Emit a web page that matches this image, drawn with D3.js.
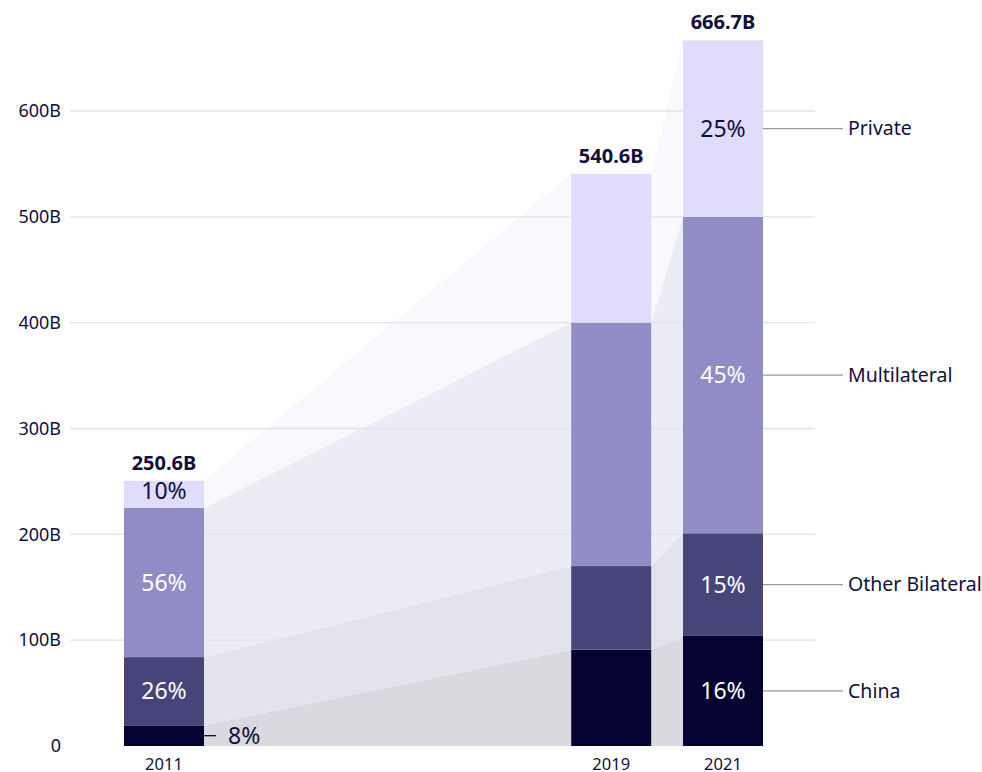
<!DOCTYPE html>
<html><head><meta charset="utf-8">
<script src="https://cdn.jsdelivr.net/npm/d3@7"></script>
<style>body{margin:0;background:#fff;} svg{display:block;font-family:"Noto Sans",sans-serif;}</style>
</head><body>
<svg id="c" width="982" height="772"></svg>
<script>
const years = [2011, 2019, 2021];
const seriesNames = ["China", "Other Bilateral", "Multilateral", "Private"];
const china = [19.5, 91, 104];
const otherBilateral = [64.5, 79, 97];
const multilateral = [141, 230, 299];
const privateDebt = [25.6, 140.6, 166.7];
const totals = ["250.6B", "540.6B", "666.7B"];
const pct2011 = ["8%", "26%", "56%", "10%"];
const pct2021 = ["16%", "15%", "45%", "25%"];
const yTicks = [0, 100, 200, 300, 400, 500, 600];

const barColors = ["#030230", "#46457a", "#8f8cc6", "#e0dcfc"];
const bandColors = ["#d9d9df", "#e3e3eb", "#ececf5", "#f8f8fd"];
const textColor = "#10103a";

const svg = d3.select("#c");
const y = d3.scaleLinear().domain([0, 600]).range([746, 111]);
const x = d3.scaleLinear().domain([2011, 2021]).range([164, 723]);
const barW = 80;

const rows = years.map((yr, i) => ({year: yr, China: china[i], "Other Bilateral": otherBilateral[i], Multilateral: multilateral[i], Private: privateDebt[i]}));
const stack = d3.stack().keys(seriesNames)(rows);

// bands between bars
const bandG = svg.append("g");
for (let i = 0; i < years.length - 1; i++) {
  stack.forEach((layer, k) => {
    const pts = [
      {x: x(years[i]) + barW / 2, y0: layer[i][0], y1: layer[i][1]},
      {x: x(years[i + 1]) - barW / 2, y0: layer[i + 1][0], y1: layer[i + 1][1]}
    ];
    const area = d3.area().x(d => d.x).y0(d => y(d.y0)).y1(d => y(d.y1));
    bandG.append("path").attr("d", area(pts)).attr("fill", bandColors[k]);
  });
}

// gridlines
svg.append("g").selectAll("line").data(yTicks.filter(t => t > 0)).join("line")
  .attr("x1", 70).attr("x2", 815).attr("y1", d => y(d)).attr("y2", d => y(d))
  .attr("stroke", "#e2e2e8").attr("stroke-width", 1.3);

// y tick labels
svg.append("g").selectAll("text").data(yTicks).join("text")
  .attr("x", 61).attr("y", d => y(d)).attr("dy", "0.35em").attr("text-anchor", "end")
  .attr("font-size", 18).attr("fill", textColor)
  .text(d => d === 0 ? "0" : d + "B");

// bars
stack.forEach((layer, k) => {
  svg.append("g").selectAll("rect").data(layer).join("rect")
    .attr("x", (d, i) => x(years[i]) - barW / 2).attr("width", barW)
    .attr("y", d => y(d[1])).attr("height", d => y(d[0]) - y(d[1]))
    .attr("fill", barColors[k]);
});

// totals
svg.append("g").selectAll("text").data(years).join("text")
  .attr("x", d => x(d)).attr("y", (d, i) => y(stack[3][i][1]) - 11)
  .attr("text-anchor", "middle").attr("font-size", 20).attr("font-weight", "bold")
  .attr("fill", textColor).text((d, i) => totals[i]);

// year labels
svg.append("g").selectAll("text").data(years).join("text")
  .attr("x", d => x(d)).attr("y", 764).attr("dy", "0.35em")
  .attr("text-anchor", "middle").attr("font-size", 16.5).attr("fill", textColor).text(d => d);

// 2011 percentages
stack.forEach((layer, k) => {
  const d = layer[0];
  const cy = (y(d[0]) + y(d[1])) / 2;
  if (k === 0) {
    svg.append("line").attr("x1", x(2011) + barW / 2).attr("x2", x(2011) + barW / 2 + 12)
      .attr("y1", cy).attr("y2", cy).attr("stroke", textColor).attr("stroke-width", 1.3);
    svg.append("text").attr("x", x(2011) + barW / 2 + 24).attr("y", cy).attr("dy", "0.35em")
      .attr("font-size", 23).attr("fill", textColor).text(pct2011[k]);
  } else {
    svg.append("text").attr("x", x(2011)).attr("y", k === 3 ? cy - 3 : cy).attr("dy", "0.35em")
      .attr("text-anchor", "middle").attr("font-size", 23)
      .attr("fill", k === 3 ? textColor : "#ffffff").text(pct2011[k]);
  }
});

// 2021 percentages and legend labels
stack.forEach((layer, k) => {
  const d = layer[2];
  const cy = (y(d[0]) + y(d[1])) / 2;
  svg.append("text").attr("x", x(2021)).attr("y", cy).attr("dy", "0.35em")
    .attr("text-anchor", "middle").attr("font-size", 23)
    .attr("fill", k === 3 ? textColor : "#ffffff").text(pct2021[k]);
  svg.append("line").attr("x1", x(2021) + barW / 2).attr("x2", 843)
    .attr("y1", cy).attr("y2", cy).attr("stroke", "#9a9aa2").attr("stroke-width", 1.3);
  svg.append("text").attr("x", 848).attr("y", cy).attr("dy", "0.35em")
    .attr("font-size", 19.5).attr("fill", textColor).text(seriesNames[k]);
});
</script>
</body></html>
